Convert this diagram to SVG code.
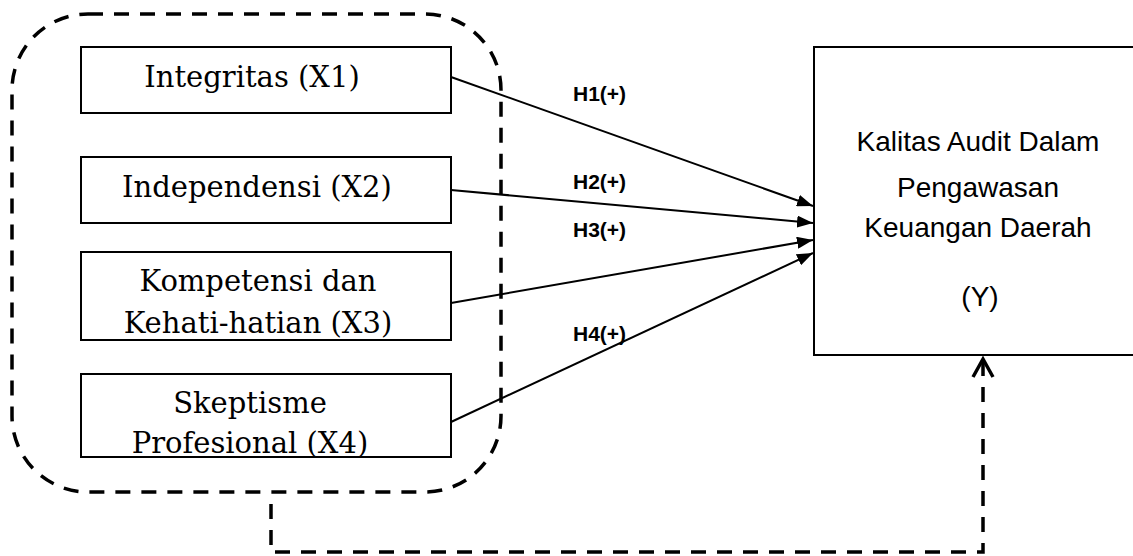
<svg xmlns="http://www.w3.org/2000/svg" width="1133" height="556" viewBox="0 0 1133 556">
  <style>
    .box { fill: #ffffff; stroke: #000000; stroke-width: 2; }
    .dash { fill: none; stroke: #000000; stroke-width: 3.5; stroke-dasharray: 15 11; }
    .link { fill: none; stroke: #000000; stroke-width: 2; }
    .serif { font-family: "DejaVu Serif", "Liberation Serif", serif; font-size: 29px; fill: #000000; text-anchor: middle; }
    .sans { font-family: "Liberation Sans", Arial, sans-serif; font-size: 28px; fill: #000000; text-anchor: middle; }
    .hyp { font-family: "Liberation Sans", Arial, sans-serif; font-size: 21px; font-weight: bold; fill: #000000; }
  </style>
  <defs>
    <marker id="arrow" markerUnits="userSpaceOnUse" viewBox="0 0 16 12" refX="16" refY="6" markerWidth="16" markerHeight="12" orient="auto">
      <path d="M0,0 L16,6 L0,12 Z" fill="#000000"/>
    </marker>
  </defs>

  <rect width="1133" height="556" fill="#ffffff"/>

  <!-- dashed grouping of the independent variables -->
  <g id="group-x">
    <rect class="dash" x="12" y="14" width="489" height="478" rx="76" ry="76"/>
  </g>

  <g id="x1">
    <rect class="box" x="81" y="47" width="370" height="66"/>
    <text class="serif" x="252" y="87">Integritas (X1)</text>
  </g>
  <g id="x2">
    <rect class="box" x="81" y="157" width="370" height="66"/>
    <text class="serif" x="257" y="197">Independensi (X2)</text>
  </g>
  <g id="x3">
    <rect class="box" x="81" y="252" width="370" height="88"/>
    <text class="serif" x="258" y="291">Kompetensi dan</text>
    <text class="serif" x="258" y="333">Kehati-hatian (X3)</text>
  </g>
  <g id="x4">
    <rect class="box" x="81" y="374" width="370" height="83"/>
    <text class="serif" x="250" y="413">Skeptisme</text>
    <text class="serif" x="250" y="453">Profesional (X4)</text>
  </g>

  <g id="y">
    <rect class="box" x="814" y="47" width="340" height="308"/>
    <text class="sans" x="978" y="151">Kalitas Audit Dalam</text>
    <text class="sans" x="978" y="197">Pengawasan</text>
    <text class="sans" x="978" y="237">Keuangan Daerah</text>
    <text class="sans" x="980" y="306">(Y)</text>
  </g>

  <g id="connectors">
    <line class="link" x1="451" y1="77" x2="813" y2="206" marker-end="url(#arrow)"/>
    <line class="link" x1="451" y1="190" x2="813" y2="223" marker-end="url(#arrow)"/>
    <line class="link" x1="451" y1="303" x2="813" y2="240" marker-end="url(#arrow)"/>
    <line class="link" x1="451" y1="422" x2="813" y2="253" marker-end="url(#arrow)"/>
    <!-- simultaneous effect path -->
    <polyline class="dash" points="271,504 271,552 983,552 983,362"/>
    <polyline fill="none" stroke="#000000" stroke-width="3.5" points="973,377 983,359 993,377"/>
  </g>

  <g id="labels">
    <text class="hyp" x="573" y="101">H1(+)</text>
    <text class="hyp" x="573" y="189">H2(+)</text>
    <text class="hyp" x="573" y="237">H3(+)</text>
    <text class="hyp" x="573" y="341">H4(+)</text>
  </g>
</svg>
